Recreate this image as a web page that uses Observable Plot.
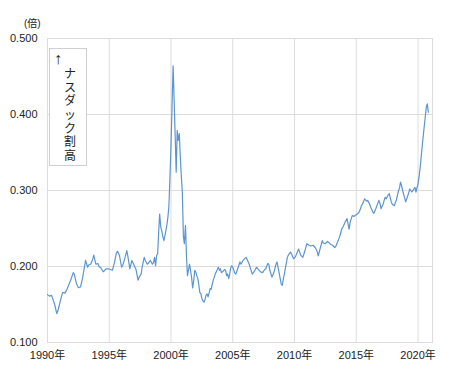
<!DOCTYPE html>
<html>
<head>
<meta charset="utf-8">
<script src="https://cdn.jsdelivr.net/npm/d3@7"></script>
<script src="https://cdn.jsdelivr.net/npm/@observablehq/plot@0.6"></script>
<style>
  body { margin: 0; background: #fff; }
  #wrap { position: relative; width: 450px; height: 371px; font-family: "Liberation Sans", Arial, "Noto Sans CJK JP", sans-serif; color: #222; }
  #unit { position: absolute; left: 24px; top: 15px; font-size: 10px; }
  #note { position: absolute; left: 49px; top: 48px; width: 38px; height: 118px; border: 1px solid #d0d0d0; background: #fff; box-sizing: border-box; }
  #note .arrow { position: absolute; left: 4px; top: 1px; font-size: 16px; line-height: 17px; }
  #note .chars { position: absolute; left: 13px; top: 19px; width: 14px; text-align: center; font-family: "Liberation Sans", "Noto Sans CJK JP", sans-serif; }
  #note .chars div { height: 13.7px; font-size: 12px; line-height: 13.7px; }
</style>
</head>
<body>
<div id="wrap">
  <div id="chart"></div>
  <div id="unit">(倍)</div>
  <div id="note"><div class="arrow">↑</div><div class="chars" id="chars"></div></div>
</div>
<script>
const noteText = "ナスダック割高";
const unitLabel = "(倍)";
const xTicks = [1990, 1995, 2000, 2005, 2010, 2015, 2020];
const yTicks = [0.1, 0.2, 0.3, 0.4, 0.5];

const t = [
1990.00,1990.17,1990.33,1990.42,1990.58,1990.75,1990.83,1991.00,1991.17,1991.25,1991.42,1991.58,1991.75,1991.92,
1992.08,1992.17,1992.33,1992.50,1992.67,1992.83,1993.00,1993.08,1993.25,1993.33,1993.50,1993.67,1993.75,1993.83,1993.92,
1994.08,1994.17,1994.33,1994.50,1994.58,1994.75,1994.92,1995.08,1995.25,1995.42,1995.58,1995.67,1995.83,
1996.00,1996.08,1996.25,1996.42,1996.50,1996.67,1996.83,1996.92,1997.08,1997.17,1997.33,1997.42,1997.58,1997.67,1997.83,1997.92,
1998.08,1998.25,1998.33,1998.50,1998.58,1998.67,1998.75,1998.83,1998.92,1999.00,1999.08,1999.17,1999.25,1999.33,1999.42,1999.50,1999.58,1999.67,1999.75,1999.83,1999.92,
2000.00,2000.08,2000.17,2000.25,2000.33,2000.42,2000.50,2000.58,2000.67,2000.75,2000.83,2000.92,
2001.00,2001.08,2001.17,2001.25,2001.33,2001.42,2001.50,2001.58,2001.67,2001.75,2001.83,2001.92,
2002.00,2002.08,2002.17,2002.25,2002.33,2002.42,2002.50,2002.58,2002.67,2002.75,2002.83,2002.92,
2003.00,2003.08,2003.17,2003.25,2003.33,2003.42,2003.50,2003.58,2003.75,2003.83,2003.92,
2004.00,2004.08,2004.17,2004.33,2004.42,2004.50,2004.58,2004.67,2004.75,2004.83,2004.92,
2005.00,2005.17,2005.25,2005.42,2005.58,2005.67,2005.83,2006.00,2006.08,2006.17,2006.33,2006.42,2006.58,2006.67,2006.83,2006.92,
2007.08,2007.25,2007.42,2007.58,2007.67,2007.83,2007.92,2008.00,2008.17,2008.33,2008.50,2008.58,2008.75,2008.92,
2009.00,2009.08,2009.25,2009.42,2009.50,2009.67,2009.75,2009.92,2010.08,2010.25,2010.33,2010.50,2010.67,2010.83,
2011.00,2011.17,2011.33,2011.50,2011.67,2011.83,2011.92,2012.08,2012.25,2012.33,2012.50,2012.67,2012.75,2012.92,
2013.08,2013.25,2013.33,2013.50,2013.67,2013.83,2013.92,2014.08,2014.25,2014.42,2014.50,2014.67,2014.83,
2015.00,2015.08,2015.25,2015.42,2015.58,2015.67,2015.83,2015.92,2016.08,2016.17,2016.33,2016.42,2016.58,2016.67,2016.83,2016.92,
2017.00,2017.17,2017.33,2017.42,2017.58,2017.67,2017.83,2017.92,2018.08,2018.25,2018.42,2018.50,2018.58,2018.67,2018.75,2018.92,
2019.00,2019.17,2019.33,2019.42,2019.50,2019.58,2019.75,2019.83,2020.00,2020.08,2020.17,2020.33,2020.42,2020.58,2020.67,2020.75,2020.83
];

const ratio = [
0.163,0.161,0.162,0.158,0.150,0.138,0.141,0.152,0.163,0.166,0.165,0.170,0.177,0.184,
0.192,0.190,0.178,0.172,0.173,0.184,0.200,0.208,0.199,0.202,0.203,0.210,0.215,0.209,0.203,
0.204,0.200,0.198,0.193,0.194,0.197,0.197,0.196,0.195,0.205,0.218,0.220,0.214,
0.199,0.201,0.210,0.221,0.214,0.197,0.208,0.205,0.199,0.196,0.182,0.186,0.190,0.200,0.212,0.208,
0.203,0.206,0.208,0.203,0.205,0.212,0.201,0.214,0.217,0.245,0.269,0.252,0.247,0.240,0.234,0.240,0.247,0.255,0.265,0.280,0.320,
0.360,0.410,0.464,0.420,0.375,0.324,0.379,0.366,0.375,0.345,0.320,0.296,
0.240,0.230,0.254,0.215,0.188,0.196,0.203,0.195,0.185,0.172,0.180,0.195,
0.193,0.188,0.184,0.176,0.166,0.164,0.158,0.155,0.153,0.156,0.162,0.164,
0.160,0.165,0.171,0.170,0.176,0.182,0.186,0.190,0.196,0.199,0.195,
0.197,0.192,0.193,0.196,0.195,0.188,0.190,0.184,0.190,0.198,0.201,
0.199,0.191,0.190,0.198,0.206,0.203,0.208,0.211,0.212,0.209,0.203,0.198,0.190,0.192,0.196,0.199,
0.196,0.193,0.192,0.196,0.197,0.204,0.203,0.195,0.186,0.192,0.203,0.206,0.192,0.177,
0.175,0.182,0.197,0.212,0.215,0.219,0.217,0.210,0.213,0.220,0.223,0.215,0.212,0.220,
0.230,0.228,0.227,0.228,0.225,0.220,0.214,0.224,0.234,0.231,0.230,0.233,0.232,0.229,
0.228,0.225,0.226,0.233,0.240,0.250,0.252,0.258,0.263,0.249,0.258,0.267,0.266,
0.268,0.269,0.272,0.280,0.285,0.289,0.286,0.287,0.282,0.278,0.272,0.270,0.276,0.280,0.287,0.283,
0.276,0.282,0.291,0.289,0.294,0.296,0.285,0.282,0.280,0.288,0.300,0.303,0.311,0.306,0.300,0.290,
0.285,0.293,0.302,0.300,0.298,0.300,0.304,0.298,0.309,0.318,0.330,0.357,0.372,0.396,0.410,0.414,0.403
];

const data = t.map((d, i) => ({t: d, v: ratio[i]}));

const chart = Plot.plot({
  width: 450,
  height: 371,
  marginLeft: 47,
  marginRight: 18,
  marginTop: 38,
  marginBottom: 29,
  style: {fontFamily: '"Liberation Sans", Arial, "Noto Sans CJK JP", sans-serif', fontSize: "11px", color: "#222", background: "transparent"},
  x: {domain: [1990, 2021.17], ticks: xTicks, tickFormat: d => d + "年", tickSize: 0, tickPadding: 9, label: null},
  y: {domain: [0.1, 0.5], ticks: yTicks, tickFormat: d3.format(".3f"), tickSize: 0, tickPadding: 10, label: null},
  marks: [
    Plot.ruleX(xTicks, {stroke: "#dcdcdc"}),
    Plot.ruleY(yTicks, {stroke: "#dcdcdc"}),
    Plot.frame({stroke: "#dcdcdc"}),
    Plot.line(data, {x: "t", y: "v", stroke: "#5b95cf", strokeWidth: 1.2})
  ]
});
document.getElementById("chart").appendChild(chart);
document.getElementById("unit").textContent = unitLabel;
document.getElementById("chars").innerHTML = Array.from(noteText).map(c => `<div>${c}</div>`).join("");
</script>
</body>
</html>
